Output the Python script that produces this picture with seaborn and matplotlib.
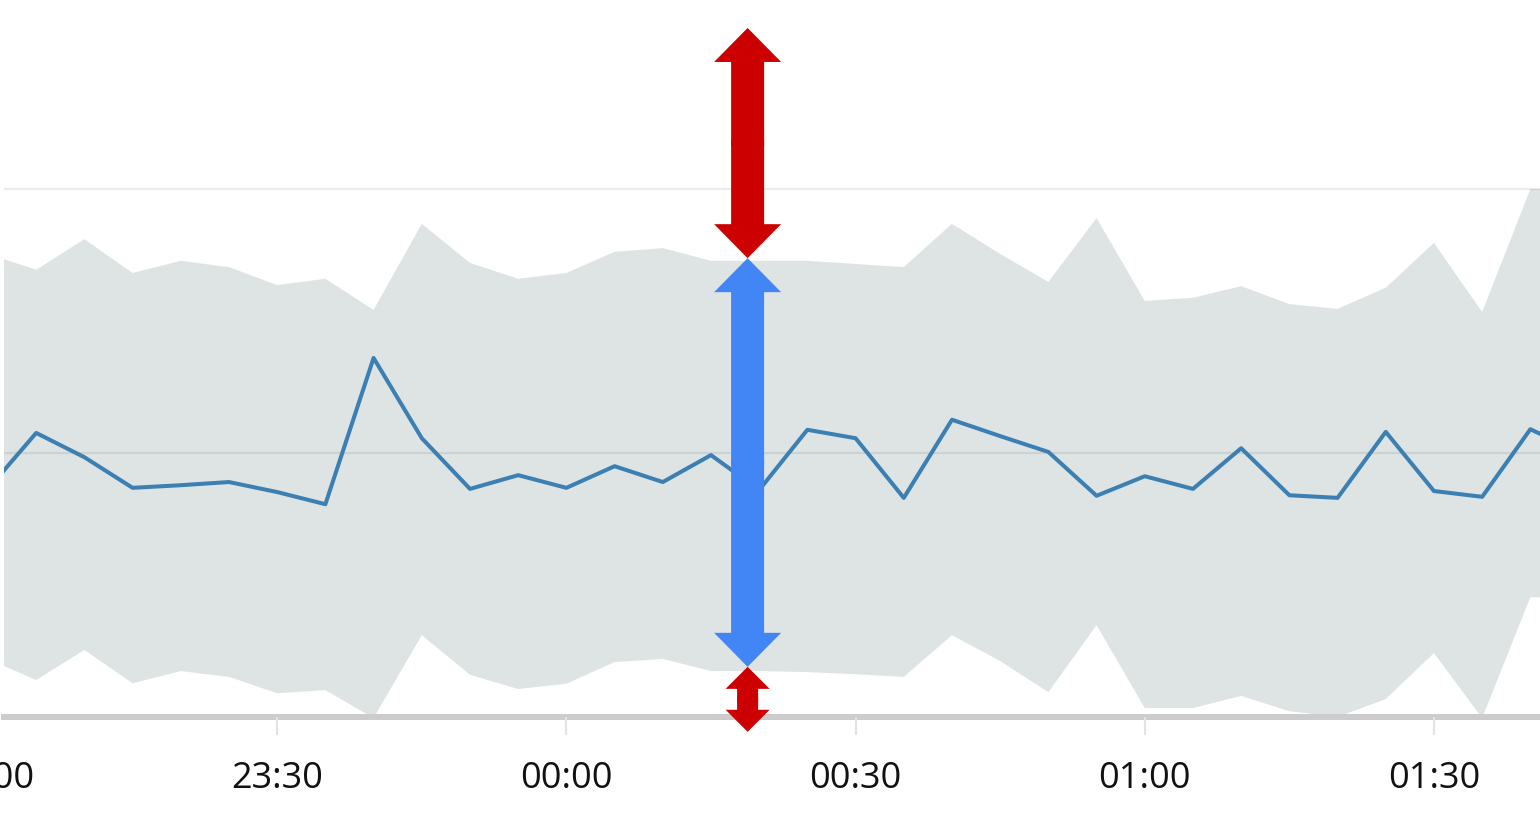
import numpy as np
import pandas as pd
import matplotlib
matplotlib.use("Agg")
import matplotlib.pyplot as plt
import matplotlib.dates as mdates
from matplotlib.patches import FancyArrow
import seaborn as sns

# 5-minute samples, 23:00 -> 01:45
times = pd.date_range("2024-03-01 23:00", periods=34, freq="5min")

metric = [43.2, 53.8, 49.2, 43.4, 43.9, 44.5, 42.6, 40.3, 68.0, 52.8,
          43.2, 45.8, 43.4, 47.5, 44.5, 49.6, 43.0, 54.4, 52.8, 41.5,
          56.3, 53.2, 50.2, 41.9, 45.6, 43.2, 50.9, 42.0, 41.5, 54.0,
          42.8, 41.7, 54.5, 50.2]

band_upper = [87.7, 84.7, 90.5, 84.1, 86.4, 85.2, 81.8, 83.0, 77.1, 93.4,
              86.0, 83.0, 84.1, 88.1, 88.8, 86.4, 86.4, 86.4, 85.8, 85.2,
              93.4, 87.7, 82.4, 94.5, 78.8, 79.4, 81.6, 78.2, 77.3, 81.3,
              89.8, 76.7, 100.0, 99.8]

band_lower = [11.0, 7.0, 12.7, 6.4, 8.7, 7.6, 4.5, 5.1, -0.2, 15.5,
              8.0, 5.3, 6.3, 10.4, 11.0, 8.7, 8.7, 8.5, 8.1, 7.6,
              15.5, 10.6, 4.7, 17.4, 1.7, 1.7, 4.0, 1.1, 0.0, 3.4,
              12.1, -0.2, 22.7, 22.5]

grid_values = [50, 100]

# annotation arrows (minutes after 23:00, y levels)
arrow_minutes = 78.8
arrow_top = 130.5
arrow_band_top = 86.9
arrow_band_bottom = 9.5
arrow_below = -2.8

df = pd.DataFrame({"time": times, "metric": metric,
                   "upper": band_upper, "lower": band_lower})

sns.set_theme(style="white")
plt.rcParams["font.family"] = ["Open Sans", "DejaVu Sans"]

W, H = 1540, 840
fig = plt.figure(figsize=(W / 100, H / 100), dpi=100)
ax = fig.add_axes([4 / W, 123 / H, 1536 / W, 717 / H])

ax.fill_between(df["time"], df["lower"], df["upper"], color="#dee4e4", lw=0, zorder=1)
sns.lineplot(data=df, x="time", y="metric", ax=ax, color="#3b7fb3", lw=2.9, zorder=3)

t0 = times[0]
ax.set_xlim(t0 + pd.Timedelta(minutes=1.66), t0 + pd.Timedelta(minutes=161.0))
ax.set_ylim(0, 717 / 5.28)

ax.set_yticks(grid_values)
ax.yaxis.grid(True, color="black", alpha=0.08, lw=1.6)
ax.set_axisbelow(False)
ax.tick_params(axis="y", left=False, labelleft=False)

ax.xaxis.set_major_locator(mdates.MinuteLocator(byminute=[0, 30]))
ax.xaxis.set_major_formatter(mdates.DateFormatter("%H:%M"))
ax.tick_params(axis="x", bottom=True, direction="out", length=13, width=1.5,
               color="#e3e3e3", labelsize=26, labelcolor="#111111", pad=19)
ax.set_xlabel("")
ax.set_ylabel("")

for side in ["top", "left", "right"]:
    ax.spines[side].set_visible(False)
ax.spines["bottom"].set_color("#cccccc")
ax.spines["bottom"].set_linewidth(4.3)


def double_arrow(ax, x, y0, y1, shaft_px, head_w_px, head_l_px, color):
    bb = ax.get_window_extent()
    x0, x1 = ax.get_xlim()
    ya, yb = ax.get_ylim()
    dx = (x1 - x0) / bb.width
    dy = (yb - ya) / bb.height
    mid = (y0 + y1) / 2
    overlap = 3 * dy
    for end, start in ((y0, mid + overlap), (y1, mid - overlap)):
        ax.add_patch(FancyArrow(x, start, 0, end - start, width=shaft_px * dx,
                                head_width=head_w_px * dx, head_length=head_l_px * dy,
                                length_includes_head=True, color=color, lw=0,
                                clip_on=False, zorder=5))


fig.canvas.draw()
ax_x = mdates.date2num(t0 + pd.Timedelta(minutes=arrow_minutes))
double_arrow(ax, ax_x, arrow_band_top, arrow_top, 33, 67, 34, "#cc0000")
double_arrow(ax, ax_x, arrow_band_bottom, arrow_band_top, 33, 67, 34, "#4285f4")
double_arrow(ax, ax_x, arrow_below, arrow_band_bottom, 21, 44, 22, "#cc0000")

# first label (23:00) sits left of the visible range, only partly shown
lbl = [t for t in ax.get_xticklabels() if t.get_text()][0]
bb = lbl.get_window_extent()
ax.annotate(t0.strftime("%H:%M"), xy=(mdates.date2num(t0), (bb.y0 + bb.y1) / 2),
            xycoords=("data", "figure pixels"), ha="center", va="center",
            fontsize=26, color="#111111", annotation_clip=False)

fig.savefig("out.png", dpi=100)
